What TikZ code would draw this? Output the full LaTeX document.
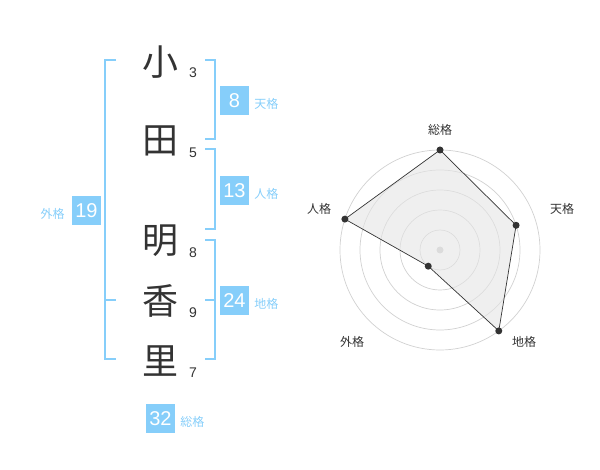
\documentclass[tikz,border=0pt]{standalone}
\usepackage{fontspec}
\setmainfont{Liberation Sans}
\newfontfamily\cjk{Noto Sans CJK JP}
\usetikzlibrary{positioning,calc}
\definecolor{sky}{RGB}{134,206,250}
\definecolor{ink}{RGB}{51,51,51}

\begin{document}
\begin{tikzpicture}[x=1pt,y=-1pt,
  kanji/.style={text=ink,font=\cjk\fontsize{36}{36}\selectfont,inner sep=0pt},
  num/.style={text=ink,font=\fontsize{14}{14}\selectfont,inner sep=0pt},
  box/.style={fill=sky,text=white,minimum size=29pt,inner sep=0pt,font=\fontsize{20}{20}\selectfont},
  tag/.style={text=sky,font=\cjk\fontsize{12}{12}\selectfont,inner sep=0pt,yshift=-3pt},
  brace/.style={draw=sky,line width=2pt},
  ring/.style={draw=black!18,line width=0.7pt},
  dot/.style={circle,fill=ink,inner sep=0pt,minimum size=7pt},
  axis/.style={text=ink,font=\cjk\fontsize{12}{12}\selectfont,inner sep=0pt}]
  \useasboundingbox (0,0) rectangle (600,470);
  % name
  \node[kanji] (k1) at (160,62) {小};
  \node[kanji] (k2) at (160,141) {田};
  \node[kanji] (k3) at (160,241) {明};
  \node[kanji] (k4) at (160,301) {香};
  \node[kanji] (k5) at (160,361) {里};
  \node[num] (n1) at (193,73) {3};
  \node[num] (n2) at (193,153) {5};
  \node[num] (n3) at (193,253) {8};
  \node[num] (n4) at (193,313) {9};
  \node[num] (n5) at (193,373) {7};
  % brackets
  \draw[brace] (116,60) -- (105,60) -- (105,359) -- (116,359) (105,300) -- (116,300);
  \draw[brace] (205,60) -- (215,60) -- (215,139) -- (205,139);
  \draw[brace] (205,149) -- (215,149) -- (215,229) -- (205,229);
  \draw[brace] (205,240) -- (215,240) -- (215,359) -- (205,359) (215,300) -- (205,300);
  % counts
  \node[box] (ten) at (234.5,100.5) {8};
  \node[box] (jin) at (234.5,190.5) {13};
  \node[box] (chi) at (234.5,300.5) {24};
  \node[box] (gai) at (86.5,210.5) {19};
  \node[box] (sou) at (160.5,418.5) {32};
  \node[tag,right=5pt of ten] (tenl) {天格};
  \node[tag,right=5pt of jin] (jinl) {人格};
  \node[tag,right=5pt of chi] (chil) {地格};
  \node[tag,left=7pt of gai] (gail) {外格};
  \node[tag,right=5pt of sou] (soul) {総格};
  % radar
  \coordinate (o) at (440,250);
  \foreach \r in {20,40,60,80,100}
    \draw[ring] (o) circle (\r);
  \fill[black!20] (o) circle (3.5);
  \coordinate (ps) at ($(o)+(-90:100)$);
  \coordinate (pt) at ($(o)+(-18:80)$);
  \coordinate (pc) at ($(o)+(54:100)$);
  \coordinate (pg) at ($(o)+(126:20)$);
  \coordinate (pj) at ($(o)+(198:100)$);
  \draw[fill=black!10,fill opacity=0.6,draw=ink,line width=0.7pt] (ps) -- (pt) -- (pc) -- (pg) -- (pj) -- cycle;
  \foreach \p in {ps,pt,pc,pg,pj}
    \node[dot] (d\p) at (\p) {};
  \node[axis] (as) at (440,130) {総格};
  \node[axis] (at) at (562,209) {天格};
  \node[axis] (ac) at (524,342) {地格};
  \node[axis] (ag) at (352,342) {外格};
  \node[axis] (aj) at (319,209) {人格};
\end{tikzpicture}
\end{document}
